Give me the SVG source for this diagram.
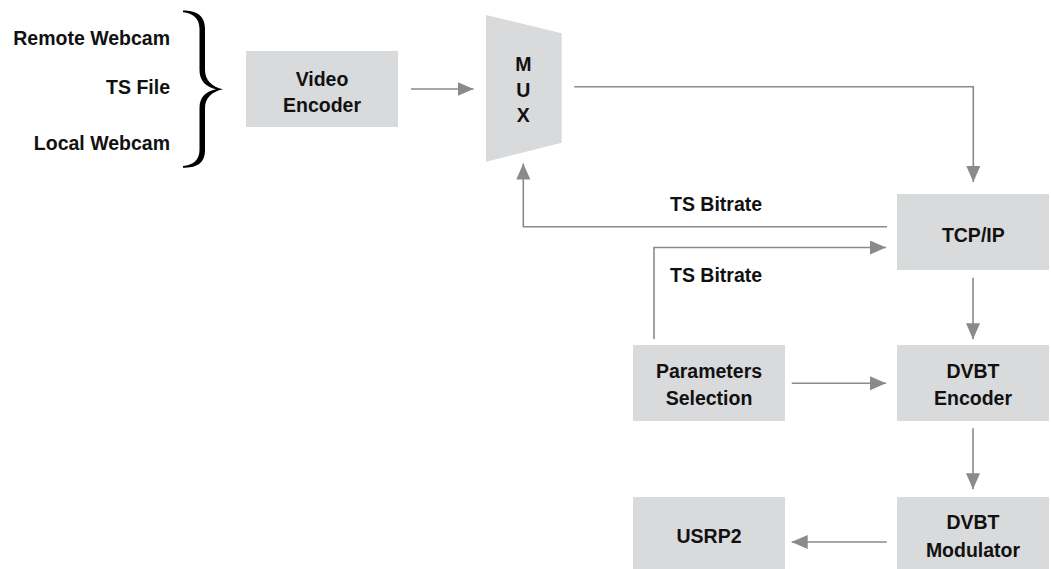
<svg xmlns="http://www.w3.org/2000/svg" width="1051" height="569" viewBox="0 0 1051 569">
<style>
.box{fill:#d9dadb;stroke:none}
.t{font-family:"Liberation Sans",Arial,sans-serif;font-weight:bold;font-size:19.5px;fill:#111}
.c{text-anchor:middle}
.r{text-anchor:end}
.ln{fill:none;stroke:#8a8a8a;stroke-width:1.6}
</style>
<defs>
<marker id="ah" markerUnits="userSpaceOnUse" markerWidth="16" markerHeight="14" refX="16" refY="7" orient="auto">
<path d="M0,0 L16,7 L0,14 Z" fill="#8a8a8a"/>
</marker>
</defs>
<rect width="1051" height="569" fill="#ffffff"/>
<g id="sources">
<text class="t r" x="170" y="45">Remote Webcam</text>
<text class="t r" x="170" y="94">TS File</text>
<text class="t r" x="170" y="150">Local Webcam</text>
<path d="M183,10.5 C196,10.5 205,15 205,29 L205,70 C205,80 212,87 223,89.3 C212,91.6 205,98 205,108 L205,150 C205,164 196,167.8 183,167.8 L183,166 C193,165 199.5,160 199.5,150 L199.5,108 C199.5,97 206,91.5 216,89.3 C206,87 199.5,81 199.5,70 L199.5,29 C199.5,18 193,13.5 183,12.3 Z" fill="#000"/>
</g>
<g id="video-encoder">
<rect class="box" x="246" y="51" width="152" height="76"/>
<text class="t c" x="322" y="86">Video</text>
<text class="t c" x="322" y="111.7">Encoder</text>
</g>
<g id="mux">
<polygon class="box" points="486,15 561.7,33.3 561.7,142.7 486,161.7"/>
<text class="t c" x="523.3" y="71">M</text>
<text class="t c" x="523.3" y="96.5">U</text>
<text class="t c" x="523.3" y="122">X</text>
</g>
<g id="tcpip">
<rect class="box" x="897" y="194" width="152" height="76"/>
<text class="t c" x="973.3" y="241.7">TCP/IP</text>
</g>
<g id="parameters-selection">
<rect class="box" x="633" y="345" width="152" height="76"/>
<text class="t c" x="709" y="378.3">Parameters</text>
<text class="t c" x="709" y="405">Selection</text>
</g>
<g id="dvbt-encoder">
<rect class="box" x="897" y="345" width="152" height="76"/>
<text class="t c" x="973" y="378.3">DVBT</text>
<text class="t c" x="973" y="405">Encoder</text>
</g>
<g id="dvbt-modulator">
<rect class="box" x="897" y="497" width="152" height="72"/>
<text class="t c" x="973" y="529">DVBT</text>
<text class="t c" x="973" y="556.7">Modulator</text>
</g>
<g id="usrp2">
<rect class="box" x="633" y="497" width="152" height="72"/>
<text class="t c" x="709" y="543.3">USRP2</text>
</g>
<g id="connectors">
<path class="ln" d="M411,89 H473.5" marker-end="url(#ah)"/>
<path class="ln" d="M574.3,86.7 H973.3 V182" marker-end="url(#ah)"/>
<path class="ln" d="M887,226.7 H523.3 V163.5" marker-end="url(#ah)"/>
<path class="ln" d="M654,339 V247.5 H886" marker-end="url(#ah)"/>
<path class="ln" d="M973,277.7 V339.3" marker-end="url(#ah)"/>
<path class="ln" d="M791.7,383.3 H886" marker-end="url(#ah)"/>
<path class="ln" d="M973,428.3 V489.3" marker-end="url(#ah)"/>
<path class="ln" d="M886.7,542 H791.7" marker-end="url(#ah)"/>
<text class="t" x="670" y="210.7">TS Bitrate</text>
<text class="t" x="670" y="281.7">TS Bitrate</text>
</g>
</svg>
